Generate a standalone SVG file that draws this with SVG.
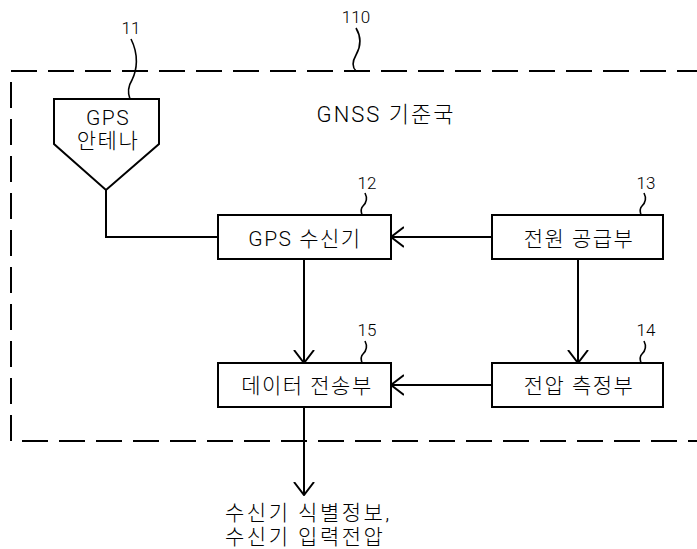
<svg xmlns="http://www.w3.org/2000/svg" width="697" height="549" viewBox="0 0 697 549">
<defs>
<style>
.box{fill:#fff;stroke:#000;stroke-width:2}
.ln{fill:none;stroke:#000;stroke-width:2}
.sq{fill:none;stroke:#000;stroke-width:1.6}
.t{font-family:Roboto,"Liberation Sans","Noto Sans CJK KR",sans-serif;font-size:21px;font-weight:300;letter-spacing:1.5px;fill:#000;text-anchor:middle}
.n{font-family:Roboto,"Liberation Sans",sans-serif;font-size:17px;font-weight:300;fill:#000;text-anchor:middle}
</style>
<marker id="ah" viewBox="0 0 14 22" refX="13" refY="11" markerWidth="14" markerHeight="22" markerUnits="userSpaceOnUse" orient="auto">
<path d="M0,1 L13,11 L0,21" fill="none" stroke="#000" stroke-width="2"/>
</marker>
</defs>
<rect width="697" height="549" fill="#fff"/>
<g id="station">
<path d="M740,71 H11 V441 H740" fill="none" stroke="#000" stroke-width="2" stroke-dasharray="26 11"/>
<text class="t" x="386" y="122" style="font-size:22px;letter-spacing:2px">GNSS 기준국</text>
<text class="n" x="356" y="23">110</text>
<path class="sq" d="M356,28 C362,38 360,48 356,55 C352,62 352,67 356,71"/>
</g>
<g id="antenna">
<path class="box" d="M54,99 H159 V144 L106,190 L54,144 Z"/>
<text class="t" x="108" y="125">GPS</text>
<text class="t" x="108" y="148">안테나</text>
<text class="n" x="131" y="34">11</text>
<path class="sq" d="M131,39 C139,55 137,70 132,80 C127,88 128,94 130,99"/>
</g>
<g id="gps-receiver">
<rect class="box" x="218" y="215" width="173" height="44"/>
<text class="t" x="305" y="246">GPS 수신기</text>
<text class="n" x="367" y="189">12</text>
<path class="sq" d="M365,193 C368,199 366,203 363,206 C360,209 361,212 362,215"/>
</g>
<g id="power-supply">
<rect class="box" x="492" y="215" width="171" height="44"/>
<text class="t" x="579" y="246">전원 공급부</text>
<text class="n" x="646" y="189">13</text>
<path class="sq" d="M644,193 C647,199 645,203 642,206 C639,209 640,212 641,215"/>
</g>
<g id="data-transmitter">
<rect class="box" x="218" y="363" width="173" height="44"/>
<text class="t" x="307" y="393">데이터 전송부</text>
<text class="n" x="367" y="336">15</text>
<path class="sq" d="M365,341 C368,347 366,351 363,354 C360,357 361,360 362,363"/>
</g>
<g id="voltage-meter">
<rect class="box" x="492" y="363" width="171" height="44"/>
<text class="t" x="579" y="393">전압 측정부</text>
<text class="n" x="646" y="336">14</text>
<path class="sq" d="M644,341 C647,347 645,351 642,354 C639,357 640,360 641,363"/>
</g>
<g id="connectors">
<path class="ln" d="M106,190 V237 H218"/>
<path class="ln" d="M492,237 H391" marker-end="url(#ah)"/>
<path class="ln" d="M304,259 V363" marker-end="url(#ah)"/>
<path class="ln" d="M578,259 V363" marker-end="url(#ah)"/>
<path class="ln" d="M492,385 H391" marker-end="url(#ah)"/>
<path class="ln" d="M304,407 V495" marker-end="url(#ah)"/>
</g>
<g id="output-label">
<text class="t" x="225" y="520" style="text-anchor:start;letter-spacing:2.5px">수신기 식별정보,</text>
<text class="t" x="225" y="544" style="text-anchor:start;letter-spacing:2.5px">수신기 입력전압</text>
</g>
</svg>
